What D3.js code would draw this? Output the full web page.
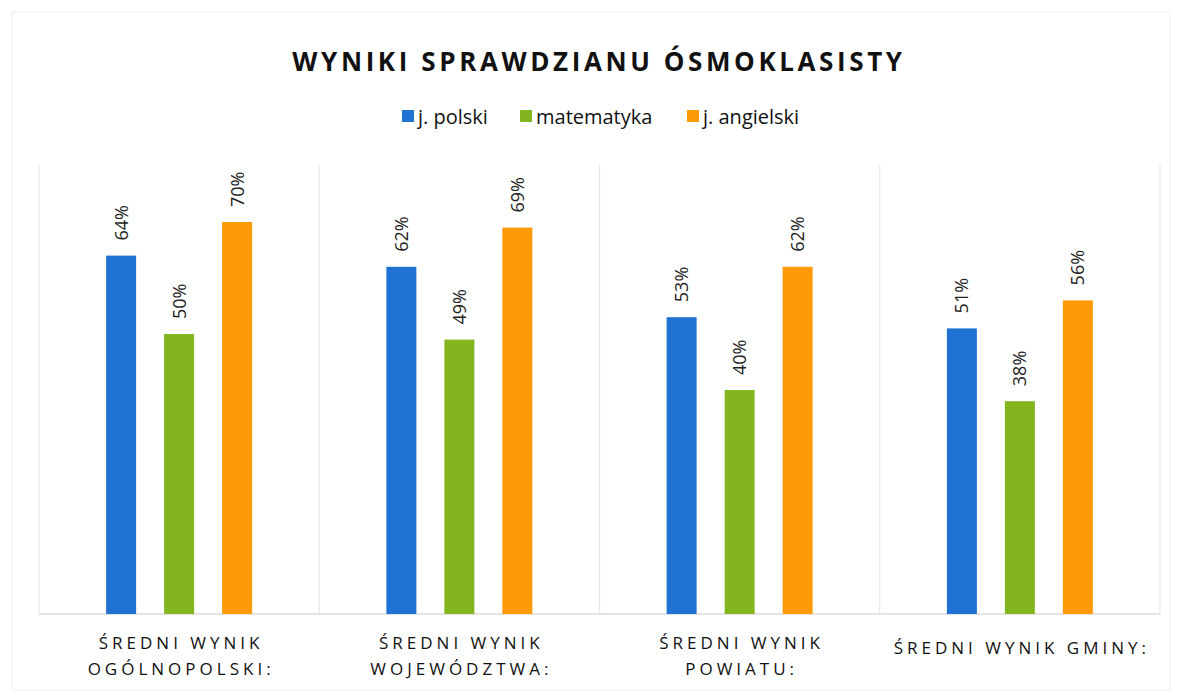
<!DOCTYPE html>
<html><head><meta charset="utf-8">
<script src="https://cdn.jsdelivr.net/npm/d3@7"></script>
<style>body{margin:0;background:#fff}svg{display:block}</style>
</head><body>
<script>
const categories = [["ŚREDNI WYNIK","OGÓLNOPOLSKI:"],["ŚREDNI WYNIK","WOJEWÓDZTWA:"],["ŚREDNI WYNIK","POWIATU:"],["ŚREDNI WYNIK GMINY:"]];
const seriesNames = ["j. polski","matematyka","j. angielski"];
const polski = [64, 62, 53, 51];
const matematyka = [50, 49, 40, 38];
const angielski = [70, 69, 62, 56];
const colors = ["#1F72D2","#83B61E","#FD9A06"];
const title = "WYNIKI SPRAWDZIANU ÓSMOKLASISTY";

const W=1183,H=697;
const svg=d3.select("body").append("svg").attr("width",W).attr("height",H);
svg.append("rect").attr("x",12).attr("y",12).attr("width",1158).attr("height",678).attr("fill","none").attr("stroke","#eeeeee");

const left=39,right=1160,base=614;
const x0=d3.scaleBand().domain(d3.range(categories.length)).range([left,right]).padding(0);
const y=d3.scaleLinear().domain([0,100]).range([base,54]);
const series=[polski,matematyka,angielski];
const font="'Open Sans', 'DejaVu Sans', sans-serif";

const seps=d3.range(1,categories.length).map(i=>x0(i));
svg.selectAll("line.sep").data([left,...seps,right]).enter().append("line")
 .attr("x1",d=>d).attr("x2",d=>d).attr("y1",165).attr("y2",base)
 .attr("stroke","#e8e8e8").attr("stroke-width",1.2);
svg.append("line").attr("x1",left).attr("x2",right).attr("y1",base).attr("y2",base).attr("stroke","#dcdcdc").attr("stroke-width",1.5);

const bw=30, stepB=58;
categories.forEach((c,i)=>{
  const cx=x0(i)+x0.bandwidth()/2;
  series.forEach((s,j)=>{
    const bx=cx+(j-1)*stepB-bw/2;
    svg.append("rect").attr("x",bx).attr("y",y(s[i])).attr("width",bw).attr("height",base-y(s[i])).attr("fill",colors[j]);
    svg.append("text").attr("transform",`translate(${bx+bw/2+6.5},${y(s[i])-15}) rotate(-90)`)
      .attr("font-family",font).attr("font-size",18).attr("fill","#222").text(s[i]+"%");
  });
  const single=c.length===1;
  c.forEach((ln,k)=>{
    svg.append("text").attr("x",cx+2).attr("y",(single?654:649)+k*26).attr("text-anchor","middle")
      .attr("font-family",font).attr("font-size",17).attr("letter-spacing",4).attr("fill","#111").text(ln);
  });
});

svg.append("text").attr("x",599).attr("y",71).attr("text-anchor","middle").attr("font-family",font)
 .attr("font-weight","bold").attr("font-size",26).attr("letter-spacing",3.6).attr("fill","#111").text(title);

const legX=[402,520,687];
seriesNames.forEach((n,j)=>{
  svg.append("rect").attr("x",legX[j]).attr("y",110).attr("width",12).attr("height",12).attr("fill",colors[j]);
  svg.append("text").attr("x",legX[j]+16).attr("y",124).attr("font-family",font).attr("font-size",20).attr("fill","#111").text(n);
});
</script>
</body></html>
